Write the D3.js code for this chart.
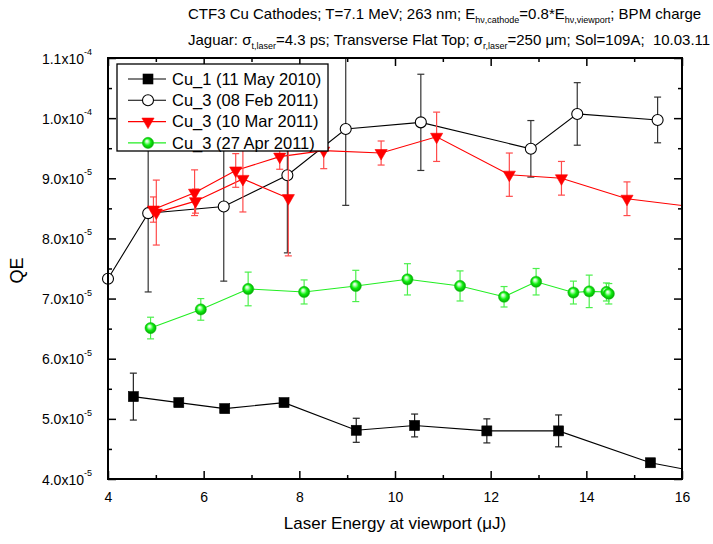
<!DOCTYPE html>
<html>
<head>
<meta charset="utf-8">
<script src="https://cdn.jsdelivr.net/npm/d3@7"></script>
<style>
  body { margin: 0; background: #fff; }
  svg { display: block; font-family: "Liberation Sans", Arial, sans-serif; }
</style>
</head>
<body>
<svg id="chart" width="713" height="544"></svg>
<script>
// ---- Axis ticks and labels ----
const xTicks = [4, 6, 8, 10, 12, 14, 16];
const xTickLabels = ["4", "6", "8", "10", "12", "14", "16"];
const xMinorTicks = [5, 7, 9, 11, 13, 15];
const yTicks = [4e-5, 5e-5, 6e-5, 7e-5, 8e-5, 9e-5, 1.0e-4, 1.1e-4];
const yTickMantissa = ["4.0", "5.0", "6.0", "7.0", "8.0", "9.0", "1.0", "1.1"];
const yTickExponent = ["-5", "-5", "-5", "-5", "-5", "-5", "-4", "-4"];
const yMinorTicks = [4.5e-5, 5.5e-5, 6.5e-5, 7.5e-5, 8.5e-5, 9.5e-5, 1.05e-4];

// ---- Series: laser energy (uJ), QE, QE error (0 = no bar) ----
const cu1May2010Energy = [4.53, 5.48, 6.44, 7.68, 9.19, 10.41, 11.92, 13.42, 15.34, 17.0];
const cu1May2010QE     = [5.37e-5, 5.27e-5, 5.17e-5, 5.27e-5, 4.81e-5, 4.89e-5, 4.80e-5, 4.80e-5, 4.27e-5, 4.02e-5];
const cu1May2010Err    = [0.39e-5, 0, 0, 0, 0.20e-5, 0.19e-5, 0.20e-5, 0.265e-5, 0, 0];

const cu3Feb2011Energy = [4.0, 4.84, 6.42, 7.75, 8.97, 10.54, 12.84, 13.81, 15.49];
const cu3Feb2011QE     = [7.33e-5, 8.42e-5, 8.53e-5, 9.05e-5, 9.82e-5, 9.93e-5, 9.49e-5, 10.07e-5, 9.97e-5];
const cu3Feb2011Err    = [0, 1.31e-5, 1.24e-5, 1.29e-5, 1.27e-5, 0.80e-5, 0.47e-5, 0.52e-5, 0.38e-5];

const cu3Mar2011Energy = [7.77, 6.82, 5.83, 5.01, 4.95, 5.81, 6.67, 7.59, 8.51, 9.71, 10.87, 12.39, 13.48, 14.85, 17.0];
const cu3Mar2011QE     = [8.67e-5, 8.99e-5, 8.62e-5, 8.43e-5, 8.48e-5, 8.76e-5, 9.13e-5, 9.36e-5, 9.46e-5, 9.42e-5, 9.69e-5, 9.06e-5, 9.00e-5, 8.66e-5, 8.45e-5];
const cu3Mar2011Err    = [0.96e-5, 0.55e-5, 0.20e-5, 0.54e-5, 0.21e-5, 0.38e-5, 0.28e-5, 0.21e-5, 0.30e-5, 0.20e-5, 0.41e-5, 0.36e-5, 0.28e-5, 0.28e-5, 0];

const cu3Apr2011Energy = [4.89, 5.94, 6.93, 8.10, 9.18, 10.26, 11.36, 12.28, 12.95, 13.73, 14.06, 14.42, 14.47];
const cu3Apr2011QE     = [6.51e-5, 6.82e-5, 7.16e-5, 7.11e-5, 7.21e-5, 7.32e-5, 7.21e-5, 7.03e-5, 7.28e-5, 7.10e-5, 7.12e-5, 7.11e-5, 7.08e-5];
const cu3Apr2011Err    = [0.18e-5, 0.18e-5, 0.28e-5, 0.20e-5, 0.26e-5, 0.26e-5, 0.25e-5, 0.17e-5, 0.22e-5, 0.19e-5, 0.27e-5, 0.15e-5, 0.17e-5];

const legendLabels = ["Cu_1 (11 May 2010)", "Cu_3 (08 Feb 2011)", "Cu_3 (10 Mar 2011)", "Cu_3 (27 Apr 2011)"];

// ---- Layout ----
const svg = d3.select("#chart");
const plot = { left: 108, right: 682, top: 58, bottom: 479 };
const x = d3.scaleLinear().domain([4, 16]).range([plot.left, plot.right]);
const y = d3.scaleLinear().domain([4e-5, 1.1e-4]).range([plot.bottom, plot.top]);

const defs = svg.append("defs");
defs.append("clipPath").attr("id", "plotClip")
  .append("rect")
  .attr("x", plot.left).attr("y", plot.top)
  .attr("width", plot.right - plot.left).attr("height", plot.bottom - plot.top);

const ball = defs.append("radialGradient").attr("id", "greenBall")
  .attr("cx", "50%").attr("cy", "50%").attr("r", "55%")
  .attr("fx", "38%").attr("fy", "32%");
ball.append("stop").attr("offset", "0%").attr("stop-color", "#ffffff");
ball.append("stop").attr("offset", "22%").attr("stop-color", "#b8ffb8");
ball.append("stop").attr("offset", "55%").attr("stop-color", "#10ee10");
ball.append("stop").attr("offset", "100%").attr("stop-color", "#009a00");

const zip = (xs, ys, es) => xs.map((v, i) => ({ x: v, y: ys[i], e: es[i] }));

const series = [
  { name: legendLabels[0], data: zip(cu1May2010Energy, cu1May2010QE, cu1May2010Err),
    line: "#000", err: "#222", marker: "square" },
  { name: legendLabels[1], data: zip(cu3Feb2011Energy, cu3Feb2011QE, cu3Feb2011Err),
    line: "#000", err: "#333", marker: "circle" },
  { name: legendLabels[2], data: zip(cu3Mar2011Energy, cu3Mar2011QE, cu3Mar2011Err),
    line: "#ff0000", err: "#ff4a4a", marker: "triangle" },
  { name: legendLabels[3], data: zip(cu3Apr2011Energy, cu3Apr2011QE, cu3Apr2011Err),
    line: "#22ee22", err: "#4cf04c", marker: "ball" }
];

function drawMarker(g, kind, cx, cy) {
  if (kind === "square") {
    g.append("rect").attr("x", cx - 5).attr("y", cy - 5).attr("width", 10).attr("height", 10)
      .attr("fill", "#000").attr("stroke", "#000").attr("stroke-width", 0.6);
  } else if (kind === "circle") {
    g.append("circle").attr("cx", cx).attr("cy", cy).attr("r", 5.5)
      .attr("fill", "#fff").attr("stroke", "#000").attr("stroke-width", 1.1);
  } else if (kind === "triangle") {
    g.append("path").attr("d", d3.symbol(d3.symbolTriangle, 64)())
      .attr("transform", `translate(${cx},${cy}) rotate(180)`)
      .attr("fill", "#ff0000").attr("stroke", "#ff0000").attr("stroke-width", 0.6);
  } else {
    g.append("circle").attr("cx", cx).attr("cy", cy).attr("r", 5.6)
      .attr("fill", "url(#greenBall)").attr("stroke", "#12c012").attr("stroke-width", 0.5);
  }
}

const lineGen = d3.line().x(d => x(d.x)).y(d => y(d.y));
const plotArea = svg.append("g");

series.forEach(s => {
  const g = plotArea.append("g");
  g.append("path").datum(s.data)
    .attr("clip-path", "url(#plotClip)")
    .attr("d", lineGen).attr("fill", "none")
    .attr("stroke", s.line).attr("stroke-width", 1.1);

  const eg = g.append("g").attr("clip-path", "url(#plotClip)")
    .attr("stroke", s.err).attr("stroke-width", 1.2).attr("fill", "none");
  s.data.filter(d => d.e > 0).forEach(d => {
    const px = x(d.x), top = y(d.y + d.e), bot = y(d.y - d.e);
    eg.append("line").attr("x1", px).attr("x2", px).attr("y1", top).attr("y2", bot);
    eg.append("line").attr("x1", px - 3.5).attr("x2", px + 3.5).attr("y1", top).attr("y2", top);
    eg.append("line").attr("x1", px - 3.5).attr("x2", px + 3.5).attr("y1", bot).attr("y2", bot);
  });

  const mg = g.append("g");
  s.data.filter(d => d.x >= 4 && d.x <= 16).forEach(d => drawMarker(mg, s.marker, x(d.x), y(d.y)));
});

// ---- Axes (ticks point inward on all four sides) ----
function styleAxis(g) {
  g.select(".domain").remove();
  g.selectAll(".tick line").attr("stroke", "#000").attr("stroke-width", 1.5);
  g.attr("font-family", null).attr("font-size", null);
}

const axes = svg.append("g");
axes.append("g").attr("transform", `translate(0,${plot.bottom})`)
  .call(d3.axisBottom(x).tickValues(xTicks).tickSize(-8).tickPadding(13)
    .tickFormat((d, i) => xTickLabels[i]))
  .call(styleAxis)
  .selectAll("text").attr("font-size", 14).attr("fill", "#000");
axes.append("g").attr("transform", `translate(0,${plot.bottom})`)
  .call(d3.axisBottom(x).tickValues(xMinorTicks).tickSize(-4).tickFormat(""))
  .call(styleAxis);
axes.append("g").attr("transform", `translate(0,${plot.top})`)
  .call(d3.axisTop(x).tickValues(xTicks).tickSize(-8).tickFormat(""))
  .call(styleAxis);
axes.append("g").attr("transform", `translate(0,${plot.top})`)
  .call(d3.axisTop(x).tickValues(xMinorTicks).tickSize(-4).tickFormat(""))
  .call(styleAxis);

const leftAxis = axes.append("g").attr("transform", `translate(${plot.left},0)`)
  .call(d3.axisLeft(y).tickValues(yTicks).tickSize(-8).tickFormat(""))
  .call(styleAxis);
axes.append("g").attr("transform", `translate(${plot.left},0)`)
  .call(d3.axisLeft(y).tickValues(yMinorTicks).tickSize(-4).tickFormat(""))
  .call(styleAxis);
axes.append("g").attr("transform", `translate(${plot.right},0)`)
  .call(d3.axisRight(y).tickValues(yTicks).tickSize(-8).tickFormat(""))
  .call(styleAxis);
axes.append("g").attr("transform", `translate(${plot.right},0)`)
  .call(d3.axisRight(y).tickValues(yMinorTicks).tickSize(-4).tickFormat(""))
  .call(styleAxis);

// Y tick labels written as mantissa x 10^exponent
leftAxis.selectAll(".tick").each(function (d, i) {
  const t = d3.select(this).append("text")
    .attr("x", -16).attr("y", 0).attr("dy", "0.36em")
    .attr("text-anchor", "end").attr("font-size", 14).attr("fill", "#000");
  t.append("tspan").text(yTickMantissa[i] + "x10");
  t.append("tspan").attr("font-size", 9).attr("dy", "-0.95em").text(yTickExponent[i]);
});

// Frame
svg.append("rect")
  .attr("x", plot.left).attr("y", plot.top)
  .attr("width", plot.right - plot.left).attr("height", plot.bottom - plot.top)
  .attr("fill", "none").attr("stroke", "#000").attr("stroke-width", 2);

// ---- Axis titles ----
const xTitle = svg.append("text")
  .attr("x", (plot.left + plot.right) / 2).attr("y", 529)
  .attr("text-anchor", "middle").attr("font-size", 17).attr("fill", "#000");
xTitle.append("tspan").text("Laser Energy at viewport (");
xTitle.append("tspan").text("\u03bc");
xTitle.append("tspan").text("J)");

svg.append("text")
  .attr("transform", `translate(23,${(plot.top + plot.bottom) / 2 + 2}) rotate(-90)`)
  .attr("text-anchor", "middle").attr("font-size", 18).attr("fill", "#000")
  .text("QE");

// ---- Header lines with subscripts ----
function richLine(yPos, parts) {
  const t = svg.append("text").attr("x", 188).attr("y", yPos)
    .attr("font-size", 15).attr("fill", "#000").style("white-space", "pre");
  let shifted = false;
  parts.forEach(p => {
    const sp = t.append("tspan").text(p.t);
    if (p.sub && !shifted) { sp.attr("font-size", 9).attr("dy", 4); shifted = true; }
    else if (!p.sub && shifted) { sp.attr("dy", -4); shifted = false; }
  });
}
richLine(19, [
  { t: "CTF3 Cu Cathodes; T=7.1 MeV; 263 nm; E" },
  { t: "h\u03bd,cathode", sub: true },
  { t: "=0.8*E" },
  { t: "h\u03bd,viewport", sub: true },
  { t: "; BPM charge" }
]);
richLine(45, [
  { t: "Jaguar: \u03c3" },
  { t: "t,laser", sub: true },
  { t: "=4.3 ps; Transverse Flat Top; \u03c3" },
  { t: "r,laser", sub: true },
  { t: "=250 \u03bcm; Sol=109A; \u00a010.03.11" }
]);

// ---- Legend ----
const legend = svg.append("g");
legend.append("rect")
  .attr("x", 117).attr("y", 64).attr("width", 211).attr("height", 87)
  .attr("fill", "#fff").attr("stroke", "#000").attr("stroke-width", 1.3);
series.forEach((s, i) => {
  const cy = 79 + i * 21.3;
  legend.append("line").attr("x1", 128).attr("x2", 166).attr("y1", cy).attr("y2", cy)
    .attr("stroke", s.line).attr("stroke-width", 1.1);
  drawMarker(legend, s.marker, 148, cy);
  legend.append("text").attr("x", 172).attr("y", cy).attr("dy", "0.35em")
    .attr("font-size", 16.5).attr("fill", "#000").text(s.name);
});
</script>
</body>
</html>
